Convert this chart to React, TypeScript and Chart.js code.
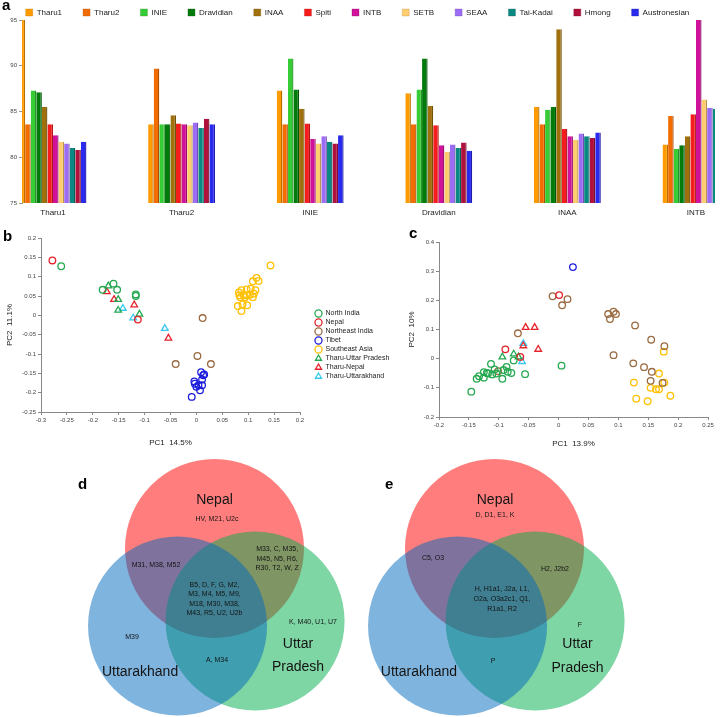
import React, { useEffect, useRef } from 'react';
import { Chart, registerables } from 'chart.js';
Chart.register(...registerables);

const FONT = "'Liberation Sans', Arial, Helvetica, sans-serif";

// ---------------- Panel a : bar chart data ----------------
const groupLabels = ['Tharu1', 'Tharu2', 'INIE', 'Dravidian', 'INAA', 'INTB'];
const seriesNames = ['Tharu1', 'Tharu2', 'INIE', 'Dravidian', 'INAA', 'Spiti', 'INTB', 'SETB', 'SEAA', 'Tai-Kadai', 'Hmong', 'Austronesian'];
const tharu1Values = [95.0, 83.6, 87.3, 87.0, 85.5, 81.4];
const tharu2Values = [83.6, 89.7, 83.6, 83.6, 83.6, 84.5];
const inieValues = [87.3, 83.6, 90.8, 87.4, 85.2, 80.9];
const dravidianValues = [87.1, 83.6, 87.4, 90.8, 85.5, 81.3];
const inaaValues = [85.5, 84.6, 85.3, 85.6, 94.0, 82.3];
const spitiValues = [83.6, 83.7, 83.7, 83.5, 83.1, 84.7];
const intbValues = [82.4, 83.6, 82.0, 81.3, 82.3, 95.0];
const setbValues = [81.7, 83.5, 81.5, 80.6, 81.9, 86.3];
const seaaValues = [81.5, 83.8, 82.3, 81.4, 82.6, 85.4];
const taiKadaiValues = [81.0, 83.2, 81.7, 81.0, 82.3, 85.3];
const hmongValues = [80.8, 84.2, 81.5, 81.6, 82.1, 86.0];
const austronesianValues = [81.7, 83.6, 82.4, 80.7, 82.7, 84.5];
const seriesValues = [tharu1Values, tharu2Values, inieValues, dravidianValues, inaaValues, spitiValues, intbValues, setbValues, seaaValues, taiKadaiValues, hmongValues, austronesianValues];
const seriesColors = ['#FF9A00', '#F26C00', '#35CC35', '#007A0A', '#A0700C', '#F41C1C', '#D0129A', '#FFCC6E', '#9C6CF5', '#0A8882', '#B0103C', '#2A2AEE'];
const yTicksA = { min: 75, max: 95, step: 5 };

// ---------------- Panel b : PCA data ----------------
const bNorthIndia = [[-0.261, 0.127], [-0.181, 0.066], [-0.160, 0.082], [-0.153, 0.066], [-0.117, 0.054], [-0.117, 0.050]];
const bNepal = [[-0.278, 0.142], [-0.113, -0.011]];
const bNortheastIndia = [[0.012, -0.007], [-0.040, -0.126], [0.002, -0.105], [0.028, -0.126]];
const bTibet = [[-0.009, -0.211], [-0.004, -0.171], [-0.003, -0.177], [0.000, -0.185], [0.007, -0.194], [0.009, -0.147], [0.013, -0.155], [0.015, -0.153], [0.011, -0.166], [0.011, -0.181], [0.004, -0.181]];
const bSoutheastAsia = [[0.143, 0.129], [0.116, 0.097], [0.120, 0.089], [0.109, 0.088], [0.087, 0.065], [0.097, 0.067], [0.105, 0.069], [0.114, 0.065], [0.083, 0.052], [0.091, 0.053], [0.097, 0.052], [0.103, 0.053], [0.111, 0.056], [0.085, 0.047], [0.094, 0.047], [0.109, 0.047], [0.080, 0.024], [0.089, 0.028], [0.098, 0.026], [0.087, 0.011], [0.082, 0.059]];
const bTharuUP = [[-0.170, 0.076], [-0.151, 0.041], [-0.151, 0.013], [-0.110, 0.003]];
const bTharuNepal = [[-0.173, 0.061], [-0.159, 0.041], [-0.120, 0.027], [-0.054, -0.059]];
const bTharuUttarakhand = [[-0.142, 0.018], [-0.122, -0.007], [-0.061, -0.034]];

// ---------------- Panel c : PCA data ----------------
const cNorthIndia = [[-0.146, -0.113], [-0.137, -0.069], [-0.133, -0.060], [-0.125, -0.046], [-0.125, -0.065], [-0.120, -0.049], [-0.118, -0.051], [-0.113, -0.018], [-0.111, -0.054], [-0.107, -0.037], [-0.104, -0.051], [-0.094, -0.069], [-0.092, -0.039], [-0.087, -0.028], [-0.085, -0.045], [-0.079, -0.049], [-0.075, -0.006], [-0.056, -0.053], [0.005, -0.024]];
const cNepal = [[0.001, 0.218], [-0.089, 0.032], [-0.064, 0.006]];
const cNortheastIndia = [[-0.010, 0.214], [0.006, 0.183], [0.015, 0.204], [-0.068, 0.087], [-0.101, -0.043], [0.083, 0.153], [0.086, 0.136], [0.092, 0.161], [0.096, 0.153], [0.092, 0.012], [0.128, 0.114], [0.155, 0.065], [0.177, 0.043], [0.125, -0.016], [0.143, -0.029], [0.156, -0.045], [0.154, -0.076], [0.174, -0.083]];
const cTibet = [[0.024, 0.314]];
const cSoutheastAsia = [[0.176, 0.024], [0.126, -0.082], [0.130, -0.137], [0.149, -0.146], [0.168, -0.051], [0.154, -0.100], [0.163, -0.105], [0.168, -0.105], [0.177, -0.082], [0.187, -0.127]];
const cTharuUP = [[-0.094, 0.006], [-0.075, 0.016], [-0.067, 0.006]];
const cTharuNepal = [[-0.055, 0.107], [-0.040, 0.107], [-0.034, 0.032], [-0.059, 0.044]];
const cTharuUttarakhand = [[-0.059, 0.052], [-0.061, -0.010]];

const popNames = ['North India', 'Nepal', 'Northeast India', 'Tibet', 'Southeast Asia', 'Tharu-Uttar Pradesh', 'Tharu-Nepal', 'Tharu-Uttarakhand'];
const popColors = ['#25A850', '#E6222A', '#9A6A40', '#1C1CDC', '#FFC000', '#25A850', '#E6222A', '#38C8EE'];
const popStyles = ['circle', 'circle', 'circle', 'circle', 'circle', 'triangle', 'triangle', 'triangle'];
const bGroups = [bNorthIndia, bNepal, bNortheastIndia, bTibet, bSoutheastAsia, bTharuUP, bTharuNepal, bTharuUttarakhand];
const cGroups = [cNorthIndia, cNepal, cNortheastIndia, cTibet, cSoutheastAsia, cTharuUP, cTharuNepal, cTharuUttarakhand];

// ---------------- Panels d / e : Venn data ----------------
const vennSetNames = ['Nepal', 'Uttarakhand', 'Uttar Pradesh'];
const vennCenterX = [0, -0.413, 0.453];
const vennCenterY = [0.575, -0.291, -0.235];
const vennRadius = [1, 1, 1];
const vennFill = ['rgba(255,0,0,0.51)', 'rgba(0,105,189,0.5)', 'rgba(0,173,75,0.5)'];
const vennOrder = [3, 1, 2];

const dLabels = [
  { text: 'Nepal', x: 0.0, y: 1.12, size: 14, lh: 16 },
  { text: 'HV, M21, U2c', x: 0.028, y: 0.905, size: 7, lh: 9.5 },
  { text: 'M31, M38, M52', x: -0.654, y: 0.391, size: 7, lh: 9.5 },
  { text: 'M33, C, M35,\nM45, N5, R6,\nR30, T2, W, Z', x: 0.70, y: 0.458, size: 7, lh: 9.5 },
  { text: 'B5, D, F, G, M2,\nM3, M4, M5, M9,\nM18, M30, M38,\nM43, R5, U2, U2b', x: 0.0, y: 0.01, size: 7, lh: 9.4 },
  { text: 'M39', x: -0.922, y: -0.413, size: 7, lh: 9.5 },
  { text: 'A, M34', x: 0.028, y: -0.670, size: 7, lh: 9.5 },
  { text: 'K, M40, U1, U7', x: 1.10, y: -0.246, size: 7, lh: 9.5 },
  { text: 'Uttar\nPradesh', x: 0.933, y: -0.620, size: 14, lh: 23 },
  { text: 'Uttarakhand', x: -0.832, y: -0.804, size: 14, lh: 16 },
];
const eLabels = [
  { text: 'Nepal', x: 0.006, y: 1.12, size: 14, lh: 16 },
  { text: 'D, D1, E1, K', x: 0.006, y: 0.95, size: 7, lh: 9.5 },
  { text: 'C5, O3', x: -0.687, y: 0.469, size: 7, lh: 9.5 },
  { text: 'H2, J2b2', x: 0.676, y: 0.346, size: 7, lh: 9.5 },
  { text: 'H, H1a1, J2a, L1,\nO2a, O3a2c1, Q1,\nR1a1, R2', x: 0.084, y: 0.006, size: 7, lh: 10 },
  { text: 'F', x: 0.955, y: -0.279, size: 7, lh: 9.5 },
  { text: 'Uttar\nPradesh', x: 0.927, y: -0.626, size: 14, lh: 24 },
  { text: 'P', x: -0.017, y: -0.682, size: 7, lh: 9.5 },
  { text: 'Uttarakhand', x: -0.844, y: -0.804, size: 14, lh: 16 },
];

// ---------------- helpers ----------------
function darken(hex: string, f: number) {
  const n = parseInt(hex.slice(1), 16);
  const r = Math.round(((n >> 16) & 255) * f);
  const g = Math.round(((n >> 8) & 255) * f);
  const b = Math.round((n & 255) * f);
  return `rgb(${r},${g},${b})`;
}
const fmt = (v: number) => String(Math.round(v * 1000) / 1000);

// adjusts the size / drawing offset of the built-in legend box
function legendBoxPlugin(opts: { height?: number; width?: number; dx?: number }) {
  return {
    id: 'legendBox',
    afterInit(chart: any) {
      const lg = chart.legend;
      if (!lg) return;
      const origFit = lg.fit.bind(lg);
      lg.fit = function () {
        origFit();
        if (opts.height !== undefined) this.height = opts.height;
        if (opts.width !== undefined) this.width = opts.width;
      };
      if (opts.dx) {
        const origDraw = lg.draw.bind(lg);
        lg.draw = function (...args: any[]) {
          this.left += opts.dx; this.right += opts.dx;
          origDraw(...args);
          this.left -= opts.dx; this.right -= opts.dx;
        };
      }
    },
  };
}

function vennTextPlugin(labels: any[]) {
  return {
    id: 'vennText',
    afterDatasetsDraw(chart: any) {
      const { ctx } = chart;
      const xs = chart.scales.x, ys = chart.scales.y;
      ctx.save();
      ctx.fillStyle = '#141414';
      ctx.textAlign = 'center';
      ctx.textBaseline = 'middle';
      labels.forEach((l) => {
        ctx.font = `${l.size}px ${FONT}`;
        const lines = l.text.split('\n');
        const px = xs.getPixelForValue(l.x);
        const py = ys.getPixelForValue(l.y);
        lines.forEach((line: string, i: number) => {
          ctx.fillText(line, px, py + (i - (lines.length - 1) / 2) * l.lh);
        });
      });
      ctx.restore();
    },
  };
}

function barConfig(): any {
  return {
    type: 'bar',
    data: {
      datasets: seriesNames.map((name, i) => ({
        label: name,
        data: seriesValues[i].map((v, j) => ({ x: j, y: v })),
        backgroundColor: seriesColors[i],
        borderColor: darken(seriesColors[i], 0.72),
        borderWidth: { right: 1.3, top: 0, left: 0, bottom: 0 },
        borderSkipped: false,
        categoryPercentage: 0.52,
        barPercentage: 1,
      })),
    },
    options: {
      responsive: false, animation: false, devicePixelRatio: 1, events: [],
      layout: { padding: { top: -12.5, right: 12, left: 0, bottom: 0 } },
      plugins: {
        tooltip: { enabled: false },
        legend: {
          position: 'top',
          labels: { boxWidth: 7, boxHeight: 7, padding: 21, font: { size: 8, family: FONT }, color: '#222' },
        },
      },
      scales: {
        x: {
          type: 'linear', min: -0.241, max: 5.148, offset: false,
          grid: { display: false, drawTicks: false, offset: false }, border: { display: false },
          afterBuildTicks: (s: any) => { s.ticks = groupLabels.map((_, i) => ({ value: i })); },
          ticks: { callback: (v: number) => groupLabels[v] ?? '', font: { size: 8, family: FONT }, color: '#222', padding: 5, autoSkip: false, maxRotation: 0 },
          afterFit: (s: any) => { s.height = 19; },
        },
        y: {
          min: yTicksA.min, max: yTicksA.max,
          ticks: { stepSize: yTicksA.step, font: { size: 6, family: FONT }, color: '#444', padding: 2 },
          grid: { drawOnChartArea: false, tickLength: 3, color: '#999' },
          border: { display: true, color: '#999' },
          afterFit: (s: any) => { s.width = 22; },
        },
      },
    },
    plugins: [legendBoxPlugin({ height: 32.5 })],
  };
}

function scatterConfig(groups: number[][][], opts: any): any {
  const axisCommon = {
    grid: { drawOnChartArea: false, tickLength: 3, color: '#888' },
    border: { display: true, color: '#888' },
  };
  const scales: any = {
    x: {
      type: 'linear', min: opts.xMin, max: opts.xMax, ...axisCommon,
      ticks: { stepSize: opts.xStep, callback: fmt, font: { size: 6, family: FONT }, color: '#444', padding: 2, maxRotation: 0, autoSkip: false },
      title: { display: true, text: opts.xTitle, font: { size: 8, family: FONT }, color: '#222', padding: { top: 0, bottom: opts.xTitlePad } },
      afterFit: (s: any) => { s.height = opts.xAxisH; },
    },
    y: {
      type: 'linear', min: opts.yMin, max: opts.yMax, ...axisCommon,
      ticks: { stepSize: opts.yStep, callback: fmt, font: { size: 6, family: FONT }, color: '#444', padding: 2, autoSkip: false },
      title: { display: true, text: opts.yTitle, font: { size: 8, family: FONT }, color: '#222', padding: { top: opts.yTitlePad, bottom: 0 } },
      afterFit: (s: any) => { s.width = opts.yAxisW; },
    },
  };
  return {
    type: 'scatter',
    data: {
      datasets: popNames.map((name, i) => ({
        label: name,
        data: groups[i].map(([x, y]) => ({ x, y })),
        pointStyle: popStyles[i],
        backgroundColor: 'rgba(0,0,0,0)',
        borderColor: popColors[i],
        pointBorderWidth: 1.3,
        borderWidth: 1.3,
        pointRadius: popStyles[i] === 'triangle' ? 3.8 : 3.3,
        clip: false,
      })),
    },
    options: {
      responsive: false, animation: false, devicePixelRatio: 1, events: [],
      layout: { padding: opts.padding },
      plugins: {
        tooltip: { enabled: false },
        legend: opts.legend ? {
          display: true, position: 'right',
          labels: { usePointStyle: true, boxWidth: 7, boxHeight: 5, padding: 2, font: { size: 7, family: FONT }, color: '#222' },
        } : { display: false },
      },
      scales,
    },
    plugins: opts.legend ? [legendBoxPlugin({ width: opts.legendW, dx: opts.legendDx })] : [],
  };
}

function vennConfig(labels: any[], xMin: number, xMax: number): any {
  const radiusPx = (chart: any, r: number) => {
    const s = chart.scales.x;
    return Math.abs(s.getPixelForValue(r) - s.getPixelForValue(0));
  };
  return {
    type: 'scatter',
    data: {
      datasets: vennSetNames.map((name, i) => ({
        label: name,
        data: [{ x: vennCenterX[i], y: vennCenterY[i] }],
        order: vennOrder[i],
        pointRadius: (ctx: any) => radiusPx(ctx.chart, vennRadius[i]),
        pointHoverRadius: (ctx: any) => radiusPx(ctx.chart, vennRadius[i]),
        pointBackgroundColor: vennFill[i],
        backgroundColor: vennFill[i],
        pointBorderWidth: 0,
        borderWidth: 0,
        clip: false,
      })),
    },
    options: {
      responsive: false, animation: false, devicePixelRatio: 1, events: [],
      layout: { padding: 0 },
      plugins: { legend: { display: false }, tooltip: { enabled: false } },
      scales: {
        x: { type: 'linear', display: false, min: xMin, max: xMax },
        y: { type: 'linear', display: false, min: -1.3073, max: 1.7877 },
      },
    },
    plugins: [vennTextPlugin(labels)],
  };
}

function ChartCanvas({ make, left, top, width, height }: any) {
  const ref = useRef<HTMLCanvasElement>(null);
  useEffect(() => {
    const chart = new Chart(ref.current as HTMLCanvasElement, make());
    return () => chart.destroy();
  }, []);
  return (
    <canvas ref={ref} width={width} height={height}
      style={{ position: 'absolute', left, top, width, height }} />
  );
}

const panelLabel = (t: string, left: number, top: number) => (
  <div style={{ position: 'absolute', left, top, font: `bold 15px ${FONT}`, lineHeight: '15px', color: '#000' }}>{t}</div>
);

export default function App() {
  return (
    <div style={{ position: 'absolute', left: 0, top: 0, width: 727, height: 717, background: '#fff', overflow: 'hidden' }}>
      <ChartCanvas make={barConfig} left={0} top={0} width={727} height={222} />
      <ChartCanvas
        make={() => scatterConfig(bGroups, {
          xMin: -0.3, xMax: 0.2, xStep: 0.05, yMin: -0.25, yMax: 0.2, yStep: 0.05,
          xTitle: 'PC1  14.5%', yTitle: 'PC2  11.1%', xTitlePad: 4, yTitlePad: 5,
          xAxisH: 40, yAxisW: 41, legend: true, legendW: 97, legendDx: 13,
          padding: { top: 16, right: 3, left: 0, bottom: 0 },
        })}
        left={0} top={222} width={400} height={230} />
      <ChartCanvas
        make={() => scatterConfig(cGroups, {
          xMin: -0.2, xMax: 0.25, xStep: 0.05, yMin: -0.2, yMax: 0.4, yStep: 0.1,
          xTitle: 'PC1  13.9%', yTitle: 'PC2  10%', xTitlePad: 3, yTitlePad: 7,
          xAxisH: 35, yAxisW: 39, legend: false,
          padding: { top: 20, right: 19, left: 0, bottom: 0 },
        })}
        left={400} top={222} width={327} height={230} />
      <ChartCanvas make={() => vennConfig(dLabels, -2.3966, 1.6257)} left={0} top={440} width={360} height={277} />
      <ChartCanvas make={() => vennConfig(eLabels, -1.5028, 2.5978)} left={360} top={440} width={367} height={277} />
      {panelLabel('a', 2, -3)}
      {panelLabel('b', 3, 228)}
      {panelLabel('c', 409, 225)}
      {panelLabel('d', 78, 476)}
      {panelLabel('e', 385, 476)}
    </div>
  );
}
